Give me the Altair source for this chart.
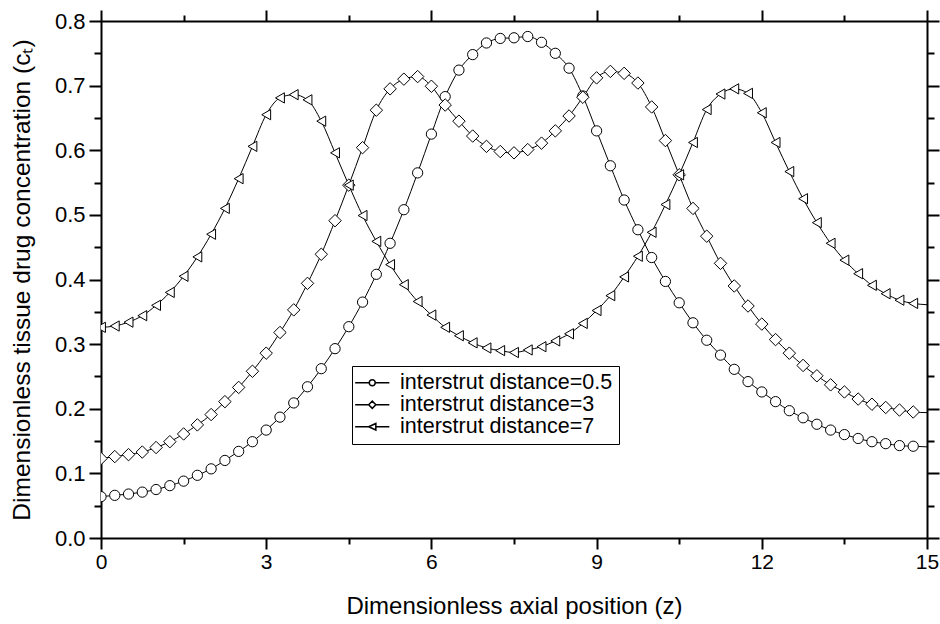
import altair as alt
import pandas as pd

# ---------------- data ----------------
z_markers = [i * 0.25 for i in range(60)]          # marker positions 0 .. 14.75
z_end = 15.0                                        # line continues to the frame

series_names = ["interstrut distance=0.5", "interstrut distance=3", "interstrut distance=7"]

c_d05 = [0.064, 0.066, 0.068, 0.071, 0.075, 0.081, 0.088, 0.097, 0.107, 0.120, 0.134, 0.149, 0.167, 0.187, 0.209,
         0.234, 0.262, 0.293, 0.327, 0.365, 0.408, 0.456, 0.508, 0.565, 0.625, 0.683, 0.724, 0.748, 0.766, 0.773,
         0.774, 0.776, 0.767, 0.750, 0.727, 0.684, 0.630, 0.576, 0.523, 0.477, 0.434, 0.397, 0.364, 0.333, 0.306,
         0.283, 0.261, 0.242, 0.226, 0.211, 0.197, 0.186, 0.176, 0.167, 0.160, 0.154, 0.149, 0.146, 0.143, 0.142]

c_d3 = [0.123, 0.126, 0.129, 0.133, 0.140, 0.149, 0.161, 0.175, 0.191, 0.211, 0.233, 0.258, 0.286, 0.318, 0.353,
        0.394, 0.439, 0.491, 0.546, 0.604, 0.662, 0.695, 0.710, 0.714, 0.699, 0.670, 0.645, 0.622, 0.606, 0.598,
        0.596, 0.601, 0.611, 0.630, 0.653, 0.682, 0.712, 0.722, 0.719, 0.704, 0.667, 0.615, 0.562, 0.510, 0.467,
        0.425, 0.390, 0.359, 0.331, 0.307, 0.286, 0.267, 0.251, 0.237, 0.226, 0.215, 0.207, 0.202, 0.198, 0.195]

c_d7 = [0.326, 0.328, 0.334, 0.344, 0.360, 0.380, 0.405, 0.435, 0.470, 0.510, 0.556, 0.606, 0.655, 0.681, 0.686,
        0.678, 0.645, 0.596, 0.546, 0.499, 0.459, 0.423, 0.392, 0.366, 0.345, 0.326, 0.313, 0.302, 0.294, 0.290,
        0.287, 0.291, 0.296, 0.305, 0.316, 0.332, 0.352, 0.375, 0.404, 0.436, 0.473, 0.516, 0.562, 0.612, 0.663,
        0.687, 0.695, 0.688, 0.658, 0.612, 0.567, 0.525, 0.488, 0.456, 0.430, 0.409, 0.391, 0.378, 0.368, 0.363]

c_end = [0.141, 0.194, 0.361]

x_ticks = [0, 1.5, 3, 4.5, 6, 7.5, 9, 10.5, 12, 13.5, 15]
y_ticks = [0.0, 0.05, 0.1, 0.15, 0.2, 0.25, 0.3, 0.35, 0.4, 0.45, 0.5, 0.55, 0.6, 0.65, 0.7, 0.75, 0.8]

# ---------------- table ----------------
rows = []
for name, vals, end in zip(series_names, [c_d05, c_d3, c_d7], c_end):
    for z, v in zip(z_markers, vals):
        rows.append({"z": z, "c": v, "series": name, "marker": True})
    rows.append({"z": z_end, "c": end, "series": name, "marker": False})
df = pd.DataFrame(rows)

FONT = "Liberation Sans"

x_scale = alt.Scale(domain=[0, 15], nice=False, zero=False)
y_scale = alt.Scale(domain=[0, 0.8], nice=False, zero=False)

x_major = "abs(round(datum.value * 2) % 6) < 0.5"
y_major = "abs(round(datum.value * 100) % 10) < 0.5"


def x_axis(orient, labels, title):
    kw = dict(
        orient=orient, values=x_ticks, labels=labels, title=title,
        tickSize={"condition": {"test": x_major, "value": 11}, "value": 6},
        labelExpr=f"{x_major} ? format(datum.value, 'd') : ''",
        labelFontSize=21, labelPadding=2, titleFontSize=24, titlePadding=22,
        labelFlush=False, labelOverlap=False,
    )
    return alt.Axis(**kw)


def y_axis(orient, labels, title):
    kw = dict(
        orient=orient, values=y_ticks, labels=labels, title=title,
        tickSize={"condition": {"test": y_major, "value": 12}, "value": 7},
        labelExpr=f"{y_major} ? format(datum.value, '.1f') : ''",
        labelFontSize=22, labelPadding=4, titleFontSize=24.5, titlePadding=20,
        labelFlush=False, labelOverlap=False,
    )
    return alt.Axis(**kw)


line = alt.Chart(df).mark_line(
    color="black", strokeWidth=1, interpolate="monotone", clip=True
).encode(
    x=alt.X("z:Q", scale=x_scale, axis=x_axis("bottom", True, "Dimensionless axial position (z)")),
    y=alt.Y("c:Q", scale=y_scale, axis=y_axis("left", True, "Dimensionless tissue drug concentration (cₜ)")),
    detail="series:N",
)

points = alt.Chart(df).transform_filter("datum.marker").mark_point(
    filled=True, fill="white", stroke="black", strokeWidth=1, opacity=1, clip=True
).encode(
    x=alt.X("z:Q", scale=x_scale, axis=x_axis("top", False, None)),
    y=alt.Y("c:Q", scale=y_scale, axis=y_axis("right", False, None)),
    shape=alt.Shape(
        "series:N",
        scale=alt.Scale(domain=series_names, range=["circle", "diamond", "triangle-left"]),
        legend=None,
    ),
    size=alt.Size(
        "series:N",
        scale=alt.Scale(type="ordinal", domain=series_names, range=[105, 155, 105]),
        legend=None,
    ),
)

# legend glyphs: line sample with the marker in its middle (path units = 3 px)
legend_shapes = [
    "M-5.7,0L-1,0M1,0L5.7,0M1,0C1,0.552,0.552,1,0,1C-0.552,1,-1,0.552,-1,0C-1,-0.552,-0.552,-1,0,-1C0.552,-1,1,-0.552,1,0Z",
    "M-5.7,0L-1.2,0M1.2,0L5.7,0M-1.2,0L0,-1.2L1.2,0L0,1.2Z",
    "M-5.7,0L-1.2,0M1.2,0L5.7,0M-1.2,0L1.2,-1.1L1.2,1.1Z",
]

# carrier layer for the legend: its marks are shifted outside the fixed
# y-domain and clipped away, only its legend remains
legend_layer = alt.Chart(df).transform_filter("datum.marker").transform_calculate(
    c_hidden="datum.c + 5"
).mark_point(
    filled=True, fill="white", stroke="black", strokeWidth=1, opacity=1, clip=True
).encode(
    x=alt.X("z:Q", scale=x_scale, axis=None),
    y=alt.Y("c_hidden:Q", scale=y_scale, axis=None),
    shape=alt.Shape(
        "series:N",
        scale=alt.Scale(domain=series_names, range=legend_shapes),
        legend=alt.Legend(
            orient="none", legendX=251, legendY=345, title=None,
            symbolSize=36, symbolOffset=3.5, labelOffset=17,
            labelFont=FONT, labelFontSize=21.5, labelLimit=400, labelColor="black",
            padding=6, rowPadding=-1, strokeColor="black", fillColor="white",
            cornerRadius=0,
        ),
    ),
)

chart = alt.layer(line, points, legend_layer).resolve_scale(
    shape="independent", size="independent"
).resolve_axis(
    x="independent", y="independent"
).properties(
    width=826, height=517,
    padding={"left": 101, "top": 21, "right": 13, "bottom": 86},
    autosize=alt.AutoSizeParams(type="none"),
    background="white",
).configure_view(
    strokeWidth=0
).configure_axis(
    labelFont=FONT, titleFont=FONT, labelColor="black", titleColor="black",
    domainColor="black", tickColor="black", domainWidth=2, tickWidth=2,
    grid=False, titleFontWeight="normal",
)

chart.save("out.html", embed_options={"renderer": "svg", "actions": False})
